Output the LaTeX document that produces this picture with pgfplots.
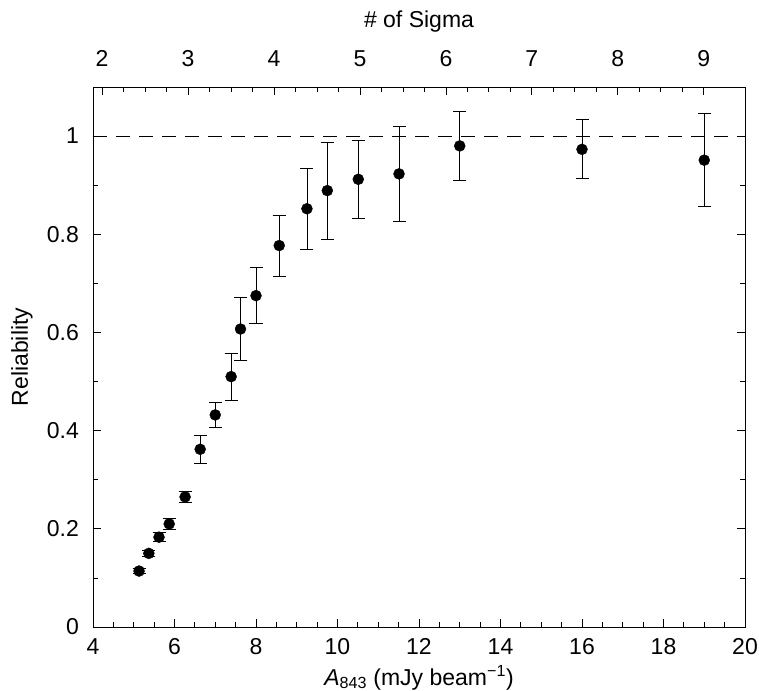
\documentclass[border=0pt]{standalone}
\usepackage{pgfplots}
\pgfplotsset{compat=1.18}
\usepackage{fontspec}
\setmainfont{Liberation Sans}

\pgfplotstableread{
x y e
5.13 0.114 0.005
5.37 0.150 0.007
5.62 0.183 0.009
5.87 0.210 0.012
6.26 0.265 0.012
6.63 0.362 0.028
7.00 0.432 0.026
7.39 0.510 0.048
7.62 0.607 0.064
8.00 0.675 0.057
8.57 0.777 0.062
9.25 0.852 0.082
9.75 0.889 0.099
10.51 0.912 0.079
11.51 0.923 0.097
13.00 0.980 0.071
16.00 0.973 0.060
19.00 0.951 0.095
}\rel

\begin{document}
\begin{tikzpicture}
\pgfplotsset{
  common/.style={
    at={(0,0)}, anchor=south west,
    scale only axis, width=652bp, height=540bp,
    tick align=inside,
    major tick length=8bp, minor tick length=5bp,
    tick style={black, line width=0.8bp},
    axis line style={line width=0.9bp},
    font=\fontsize{23bp}{27bp}\selectfont,
    /pgf/number format/assume math mode=true,
  }
}
\begin{axis}[
  common,
  xmin=4, xmax=20, ymin=0, ymax=1.1,
  xtick={4,6,...,20}, minor x tick num=3,
  ytick={0,0.2,0.4,0.6,0.8,1}, yticklabels={0,0.2,0.4,0.6,0.8,1},
  minor y tick num=1,
  xtick pos=left, ytick pos=both,
  xticklabel style={anchor=base, yshift=-27bp},
  yticklabel style={inner sep=0pt, anchor=east, xshift=-14bp},
  xlabel={\textit{A}\textsubscript{843} (mJy beam\textsuperscript{−1})},
  xlabel style={at={(axis description cs:0.5,0)}, anchor=base, yshift=-58bp},
  ylabel={Reliability},
  ylabel style={at={(axis description cs:0,0.5)}, anchor=center, rotate=0, yshift=71bp},
]
\addplot[black, line width=0.8bp, dash pattern=on 14bp off 9bp] coordinates {(4,1) (20,1)};
\addplot[black, only marks, mark=*, mark size=5.5bp,
  error bars/.cd, y dir=both, y explicit,
  error bar style={line width=0.8bp, black},
  error mark options={rotate=90, line width=0.8bp, mark size=6.5bp, black}]
  table[x=x, y=y, y error=e] {\rel};
\end{axis}
\begin{axis}[
  common,
  xmin=1.89573, xmax=9.47867, ymin=0, ymax=1.1,
  xtick={2,3,...,9}, minor x tick num=3,
  ytick=\empty,
  xtick pos=right, xticklabel pos=right,
  xticklabel style={anchor=base, yshift=20bp},
  xlabel={\# of Sigma},
  xlabel style={at={(axis description cs:0.5,1)}, anchor=base, yshift=59bp},
]
\end{axis}
\pgfresetboundingbox
\path (-93bp,-64bp) rectangle (666bp,627bp);
\end{tikzpicture}
\end{document}
